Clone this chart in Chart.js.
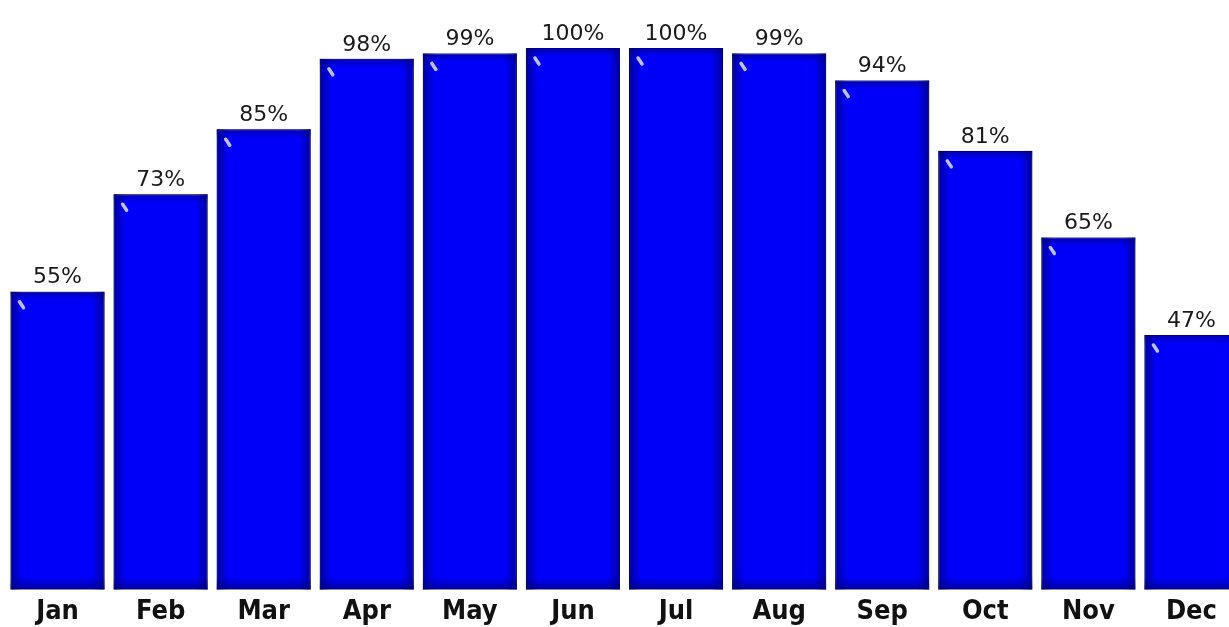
<!DOCTYPE html>
<html>
<head>
<meta charset="utf-8">
<script src="https://cdn.jsdelivr.net/npm/chart.js@4.4.0/dist/chart.umd.min.js"></script>
<style>
    html, body { margin: 0; padding: 0; background: #ffffff; overflow: hidden; }
    #wrap { width: 1249px; height: 627px; position: relative; }
</style>
</head>
<body>
<div id="wrap"><canvas id="sunChart" width="1249" height="627"></canvas></div>
<script>
// ================= DATA =================
const months = ["Jan","Feb","Mar","Apr","May","Jun","Jul","Aug","Sep","Oct","Nov","Dec"];
const sunshine = [55,73,85,98,99,100,100,99,94,81,65,47];
const valueLabels = ["55%","73%","85%","98%","99%","100%","100%","99%","94%","81%","65%","47%"];

// ================= BAR DECORATION + LABELS =================
function edgeShade(ctx, x0, y0, x1, y1, rx, ry, rw, rh, alpha) {
    const g = ctx.createLinearGradient(x0, y0, x1, y1);
    g.addColorStop(0, "rgba(0,0,105," + alpha + ")");
    g.addColorStop(1, "rgba(0,0,105,0)");
    ctx.fillStyle = g;
    ctx.fillRect(rx, ry, rw, rh);
}

const barDecor = {
    id: "barDecor",
    afterDatasetsDraw(chart) {
        const ctx = chart.ctx;
        const meta = chart.getDatasetMeta(0);
        meta.data.forEach((bar, i) => {
            const left = bar.x - bar.width / 2;
            const right = bar.x + bar.width / 2;
            const top = bar.y;
            const bottom = bar.base;
            const h = bottom - top;
            const w = right - left;
            ctx.save();
            // darker edges, lighter centre
            edgeShade(ctx, left, 0, left + 12, 0, left, top, 12, h, 0.65);
            edgeShade(ctx, right, 0, right - 12, 0, right - 12, top, 12, h, 0.65);
            edgeShade(ctx, 0, bottom, 0, bottom - 12, left, bottom - 12, w, 12, 0.65);
            edgeShade(ctx, 0, top, 0, top + 9, left, top, w, 9, 0.5);
            // little shine at top-left corner
            ctx.strokeStyle = "rgba(225,225,255,0.85)";
            ctx.lineWidth = 3.5;
            ctx.lineCap = "round";
            ctx.beginPath();
            ctx.moveTo(left + 9, top + 10);
            ctx.lineTo(left + 13, top + 16);
            ctx.stroke();
            // value label
            ctx.fillStyle = "#1a1a1a";
            ctx.font = "22px 'DejaVu Sans'";
            ctx.textAlign = "center";
            ctx.textBaseline = "bottom";
            ctx.fillText(valueLabels[i], bar.x, top - 3);
            ctx.restore();
        });
    }
};

// ================= CHART =================
const sunCtx = document.getElementById("sunChart");
new Chart(sunCtx, {
    type: "bar",
    data: {
        labels: months,
        datasets: [{
            data: sunshine,
            backgroundColor: "#0000fa",
            borderColor: "#00009a",
            borderWidth: 1,
            categoryPercentage: 1.0,
            barPercentage: 0.912
        }]
    },
    options: {
        responsive: false,
        animation: false,
        layout: { padding: { left: 6, right: 6, top: 48, bottom: -7 } },
        plugins: {
            legend: { display: false },
            tooltip: { enabled: false }
        },
        scales: {
            y: {
                display: false,
                min: 0,
                max: 100
            },
            x: {
                grid: { display: false, drawTicks: false, tickLength: 0 },
                border: { display: false },
                ticks: {
                    color: "#111111",
                    padding: 6,
                    maxRotation: 0,
                    font: { family: "'DejaVu Sans Condensed', 'Liberation Sans Narrow', 'DejaVu Sans'", size: 27, weight: "bold" }
                }
            }
        }
    },
    plugins: [barDecor]
});
</script>
</body>
</html>
